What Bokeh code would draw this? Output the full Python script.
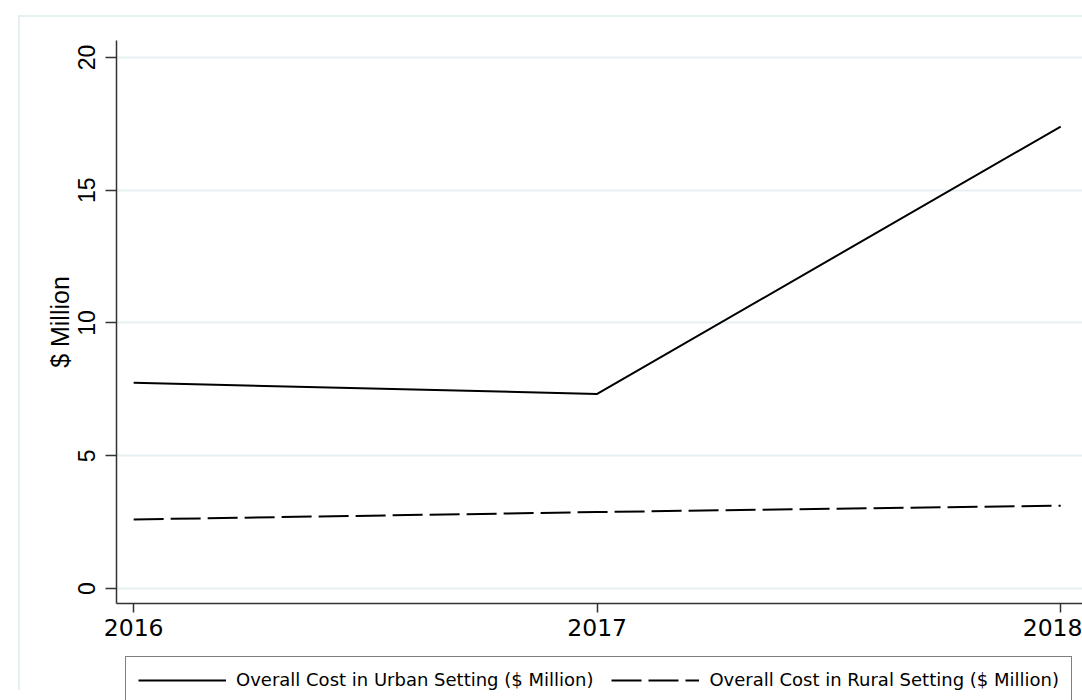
from bokeh.plotting import figure
from bokeh.layouts import column
from bokeh.models import Legend, LegendItem, Range1d, FixedTicker
from bokeh.embed import file_html
from bokeh.resources import INLINE

years = [2016, 2017, 2018]
urban = [7.75, 7.33, 17.4]
rural = [2.6, 2.88, 3.12]
y_ticks = [0, 5, 10, 15, 20]
urban_label = "Overall Cost in Urban Setting ($ Million)"
rural_label = "Overall Cost in Rural Setting ($ Million)"

FONT = "Liberation Sans"
WIDE = "DejaVu Sans"
REGION = "#e6eff1"
DASH = "30 7"

def region_border(top):
    return {
        "background-image": f"linear-gradient({REGION},{REGION}), linear-gradient({REGION},{REGION})",
        "background-size": "2px 100%, 100% 2px",
        "background-position": f"18px {top}px, 18px {top}px",
        "background-repeat": "no-repeat",
        "background-color": "white",
    }

p = figure(width=1082, height=655, output_backend="svg", toolbar_location=None,
           x_range=Range1d(2015.963, 2018.047), y_range=Range1d(-0.565, 20.64),
           min_border_left=116, min_border_top=40, min_border_right=0, min_border_bottom=52,
           styles=region_border(15))
p.outline_line_color = None
p.background_fill_color = "white"
p.border_fill_color = None

r1 = p.line(years, urban, line_color="black", line_width=2)
r2 = p.line(years, rural, line_color="black", line_width=2, line_dash=DASH)

# axes
p.xaxis.ticker = FixedTicker(ticks=years)
p.yaxis.ticker = FixedTicker(ticks=y_ticks)
for ax in (p.xaxis[0], p.yaxis[0]):
    ax.axis_line_color = "#333333"
    ax.axis_line_width = 1.5
    ax.major_tick_line_color = "#333333"
    ax.major_tick_line_width = 1.5
    ax.major_tick_in = 0
    ax.minor_tick_line_color = None
    ax.major_label_text_color = "black"
p.xaxis.major_label_text_font = WIDE
p.xaxis.major_label_text_font_size = "23.5px"
p.yaxis.major_label_text_font = FONT
p.yaxis.major_label_text_font_size = "23px"
p.xaxis.major_tick_out = 9
p.yaxis.major_tick_out = 11
p.xaxis.major_label_standoff = 6
p.yaxis.major_label_standoff = 10
p.yaxis.major_label_orientation = "vertical"
p.yaxis.axis_label = "$ Million"
p.yaxis.axis_label_text_font = FONT
p.yaxis.axis_label_text_font_size = "25px"
p.yaxis.axis_label_text_font_style = "normal"
p.yaxis.axis_label_text_color = "black"
p.yaxis.axis_label_standoff = 2

p.xgrid.grid_line_color = None
p.ygrid.grid_line_color = REGION
p.ygrid.grid_line_width = 2

# legend strip below the chart (frame aligned with the chart's frame by the column)
pl = figure(width=1082, height=45, output_backend="svg", toolbar_location=None,
            x_range=Range1d(0, 1), y_range=Range1d(0, 1),
            min_border=0, styles=region_border(-10))
pl.axis.visible = False
pl.grid.visible = False
pl.outline_line_color = None
pl.background_fill_color = None
pl.border_fill_color = None
# same series, outside this strip's ranges: only their legend samples show
l1 = pl.line(years, urban, line_color="black", line_width=2)
l2 = pl.line(years, rural, line_color="black", line_width=2, line_dash=DASH)

legend = Legend(items=[LegendItem(label=urban_label, renderers=[l1]),
                       LegendItem(label=rural_label, renderers=[l2])],
                orientation="horizontal", location=(9, -3),
                glyph_width=88, label_standoff=10, spacing=18, padding=12,
                label_text_font=WIDE, label_text_font_size="18px",
                label_text_color="black",
                border_line_color="black", border_line_width=1.5,
                background_fill_color="white", background_fill_alpha=1.0,
                margin=0)
pl.add_layout(legend)

layout = column(p, pl, spacing=0)
open("out.html", "w").write(file_html(layout, INLINE))
